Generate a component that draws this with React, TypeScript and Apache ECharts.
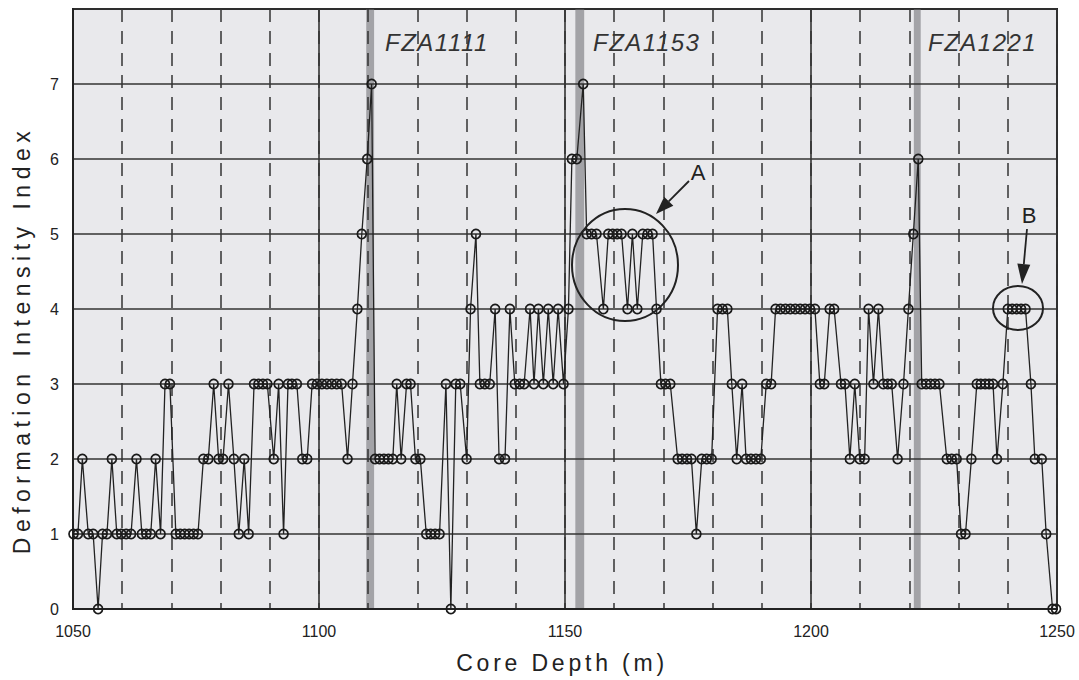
import React, { useEffect, useRef } from "react";
import * as echarts from "echarts";

// ---- Data ----
const depthM: number[] = [
  1050.1, 1051.0, 1051.9, 1053.1, 1054.1, 1055.1, 1056.0, 1056.9, 1057.9, 1058.9, 1059.8, 1060.8, 1061.8, 1062.9, 1064.0, 1064.9, 1065.8, 1066.8, 1067.8, 1068.7, 1069.7,
  1070.9, 1071.8, 1072.7, 1073.6, 1074.5, 1075.4, 1076.5, 1077.5, 1078.6, 1079.6, 1080.5, 1081.6, 1082.7, 1083.7, 1084.8, 1085.7,
  1086.8, 1087.7, 1088.6, 1089.5, 1090.8, 1091.8, 1092.8, 1093.7, 1094.5, 1095.5, 1096.6, 1097.6,
  1098.6, 1099.6, 1100.6, 1101.6, 1102.6, 1103.6, 1104.6, 1105.8, 1106.8, 1107.8, 1108.7, 1109.8, 1110.7,
  1111.4, 1112.3, 1113.2, 1114.1, 1115.0, 1115.8, 1116.7, 1117.8, 1118.6, 1119.6, 1120.6,
  1121.8, 1122.7, 1123.6, 1124.5, 1125.8, 1126.8, 1127.8, 1128.7, 1130.0, 1130.8, 1131.9,
  1132.7, 1133.7, 1134.7, 1135.8, 1136.6, 1137.8, 1138.8, 1139.8, 1140.8, 1141.7, 1142.9, 1143.7, 1144.6, 1145.6, 1146.6, 1147.6, 1148.6, 1149.7, 1150.7, 1151.4, 1152.4, 1153.7,
  1154.4, 1155.4, 1156.4, 1157.8, 1158.8, 1159.7, 1160.6, 1161.5, 1162.7, 1163.7, 1164.7, 1165.8, 1166.8, 1167.8, 1168.6, 1169.5, 1170.4, 1171.4, 1172.9, 1173.8, 1174.8, 1175.7, 1176.7, 1177.8, 1178.8, 1179.8,
  1181.0, 1182.0, 1183.0, 1183.9, 1184.9, 1186.0, 1186.8, 1187.8, 1188.8, 1189.8, 1190.9, 1191.9,
  1192.8, 1193.8, 1194.8, 1195.8, 1196.8, 1197.8, 1198.8, 1199.8, 1200.8, 1201.8, 1202.7, 1203.8, 1204.7, 1206.1, 1206.9, 1207.9, 1208.9, 1209.9, 1210.9, 1211.7, 1212.7, 1213.7, 1214.7, 1215.6, 1216.4, 1217.6, 1218.8, 1219.8, 1220.8, 1221.8,
  1222.5, 1223.4, 1224.3, 1225.2, 1226.1, 1227.6, 1228.6, 1229.6, 1230.5, 1231.4, 1232.6, 1233.7, 1234.5, 1235.4, 1236.2, 1237.0, 1237.8, 1239.0, 1240.0, 1240.9, 1241.8, 1242.7, 1243.6, 1244.7, 1245.5, 1246.9, 1247.8, 1249.1, 1249.8,
];

const intensity: number[] = [
  1, 1, 2, 1, 1, 0, 1, 1, 2, 1, 1, 1, 1, 2, 1, 1, 1, 2, 1, 3, 3,
  1, 1, 1, 1, 1, 1, 2, 2, 3, 2, 2, 3, 2, 1, 2, 1,
  3, 3, 3, 3, 2, 3, 1, 3, 3, 3, 2, 2,
  3, 3, 3, 3, 3, 3, 3, 2, 3, 4, 5, 6, 7,
  2, 2, 2, 2, 2, 3, 2, 3, 3, 2, 2,
  1, 1, 1, 1, 3, 0, 3, 3, 2, 4, 5,
  3, 3, 3, 4, 2, 2, 4, 3, 3, 3, 4, 3, 4, 3, 4, 3, 4, 3, 4, 6, 6, 7,
  5, 5, 5, 4, 5, 5, 5, 5, 4, 5, 4, 5, 5, 5, 4, 3, 3, 3, 2, 2, 2, 2, 1, 2, 2, 2,
  4, 4, 4, 3, 2, 3, 2, 2, 2, 2, 3, 3,
  4, 4, 4, 4, 4, 4, 4, 4, 4, 3, 3, 4, 4, 3, 3, 2, 3, 2, 2, 4, 3, 4, 3, 3, 3, 2, 3, 4, 5, 6,
  3, 3, 3, 3, 3, 2, 2, 2, 1, 1, 2, 3, 3, 3, 3, 3, 2, 3, 4, 4, 4, 4, 4, 3, 2, 2, 1, 0, 0,
];

// fault zone depth intervals (m)
const faultZones: number[][] = [
  [1109.6, 1111.2],
  [1152.1, 1153.9],
  [1220.9, 1222.3],
];
const faultNames: string[] = ["FZA1111", "FZA1153", "FZA1221"];

const xTitle = "Core Depth (m)";
const yTitle = "Deformation Intensity Index";

const FONT = "'Liberation Sans', Arial, Helvetica, sans-serif";
const INK = "#222";

function arrow(x1: number, y1: number, x2: number, y2: number, len: number, half: number) {
  const dx = x2 - x1;
  const dy = y2 - y1;
  const L = Math.sqrt(dx * dx + dy * dy);
  const ux = dx / L;
  const uy = dy / L;
  const bx = x2 - ux * len;
  const by = y2 - uy * len;
  const px = -uy;
  const py = ux;
  return [
    { type: "line", shape: { x1, y1, x2: bx, y2: by }, style: { stroke: INK, lineWidth: 1.8 } },
    {
      type: "polygon",
      shape: { points: [[x2, y2], [bx + px * half, by + py * half], [bx - px * half, by - py * half]] },
      style: { fill: INK },
    },
  ];
}

export default function App() {
  const ref = useRef<HTMLDivElement>(null);

  useEffect(() => {
    if (!ref.current) return;
    const chart = echarts.init(ref.current, null, { renderer: "svg" });

    const lineData = depthM.map((d, i) => [d, intensity[i]]);
    const labelLeft = [385, 593, 928];

    const option: any = {
      animation: false,
      grid: {
        left: 73,
        right: 22,
        top: 9,
        bottom: 71,
        show: true,
        backgroundColor: "#e9e9ec",
        borderColor: INK,
        borderWidth: 2,
      },
      xAxis: [
        {
          type: "value",
          min: 1050,
          max: 1250,
          interval: 50,
          position: "bottom",
          z: 2,
          axisLine: { show: true, lineStyle: { color: INK, width: 2 } },
          axisTick: { show: false },
          axisLabel: {
            color: INK,
            fontSize: 16,
            fontFamily: FONT,
            margin: 14,
            formatter: (v: number) => String(v),
          },
          splitLine: { show: true, lineStyle: { color: "#333", width: 1.6, type: "solid" } },
        },
        {
          type: "value",
          min: 1050,
          max: 1250,
          interval: 10,
          position: "bottom",
          z: 2,
          axisLine: { show: false },
          axisTick: { show: false },
          axisLabel: { show: false },
          splitLine: { show: true, lineStyle: { color: "#333", width: 1.5, type: [13, 9] } },
        },
      ],
      yAxis: {
        type: "value",
        min: 0,
        max: 8,
        interval: 1,
        z: 2,
        axisLine: { show: true, lineStyle: { color: INK, width: 2 } },
        axisTick: { show: false },
        axisLabel: {
          color: INK,
          fontSize: 16,
          fontFamily: FONT,
          margin: 14,
          formatter: (v: number) => (v === 8 ? "" : String(v)),
        },
        splitLine: { show: true, lineStyle: { color: "#333", width: 1.6 } },
      },
      series: [
        {
          type: "custom",
          xAxisIndex: 0,
          z: 1,
          silent: true,
          data: faultZones,
          encode: { x: [0, 1] },
          renderItem: (params: any, api: any) => {
            const s = api.coord([api.value(0), 8]);
            const e = api.coord([api.value(1), 0]);
            return {
              type: "rect",
              shape: { x: s[0], y: s[1], width: e[0] - s[0], height: e[1] - s[1] },
              style: { fill: "#a3a3a7" },
            };
          },
        },
        {
          type: "line",
          xAxisIndex: 0,
          z: 3,
          data: lineData,
          symbol: "circle",
          symbolSize: 9,
          showSymbol: true,
          lineStyle: { color: INK, width: 1.3 },
          itemStyle: { color: "rgba(0,0,0,0)", borderColor: "#1a1a1a", borderWidth: 1.7 },
          silent: true,
        },
      ],
      graphic: [
        {
          type: "text",
          x: 22,
          y: 340,
          rotation: Math.PI / 2,
          style: {
            text: yTitle,
            fontSize: 23,
            fontFamily: FONT,
            fill: INK,
            textAlign: "center",
            textVerticalAlign: "middle",
          },
          z: 10,
        },
        {
          type: "text",
          x: 562,
          y: 663,
          style: {
            text: xTitle,
            fontSize: 23,
            fontFamily: FONT,
            fill: INK,
            textAlign: "center",
            textVerticalAlign: "middle",
          },
          z: 10,
        },
        ...faultNames.map((n, i) => ({
          type: "text",
          x: labelLeft[i],
          y: 42,
          style: {
            text: n,
            fontSize: 24,
            fontStyle: "italic",
            fontFamily: FONT,
            fill: "#333",
            textAlign: "left",
            textVerticalAlign: "middle",
          },
          z: 10,
        })),
        {
          type: "ellipse",
          shape: { cx: 625, cy: 265, rx: 53, ry: 56 },
          style: { fill: "none", stroke: INK, lineWidth: 2 },
          z: 10,
        },
        {
          type: "text",
          x: 698,
          y: 172,
          style: { text: "A", fontSize: 22, fontFamily: FONT, fill: INK, textAlign: "center", textVerticalAlign: "middle" },
          z: 10,
        },
        ...arrow(689, 181, 656, 214, 18, 6.5).map((e) => ({ ...e, z: 10 })),
        {
          type: "ellipse",
          shape: { cx: 1018, cy: 308, rx: 25, ry: 22 },
          style: { fill: "none", stroke: INK, lineWidth: 2 },
          z: 10,
        },
        {
          type: "text",
          x: 1029,
          y: 215,
          style: { text: "B", fontSize: 22, fontFamily: FONT, fill: INK, textAlign: "center", textVerticalAlign: "middle" },
          z: 10,
        },
        ...arrow(1027, 229, 1022, 284, 20, 6.5).map((e) => ({ ...e, z: 10 })),
      ],
    };

    chart.setOption(option);

    const spacing: Record<string, string> = {
      [yTitle]: "5.5px",
      [xTitle]: "3.8px",
      FZA1111: "1.5px",
      FZA1153: "1.5px",
      FZA1221: "1.5px",
    };
    const apply = () => {
      const root = ref.current;
      if (!root) return;
      root.querySelectorAll("text").forEach((t) => {
        const ls = spacing[(t.textContent || "").trim()];
        if (ls) (t as any).style.letterSpacing = ls;
      });
    };
    apply();
    chart.on("finished", apply);

    return () => {
      chart.dispose();
    };
  }, []);

  return (
    <div
      ref={ref}
      style={{ position: "absolute", left: 0, top: 0, width: 1079, height: 680, background: "#fff" }}
    />
  );
}
